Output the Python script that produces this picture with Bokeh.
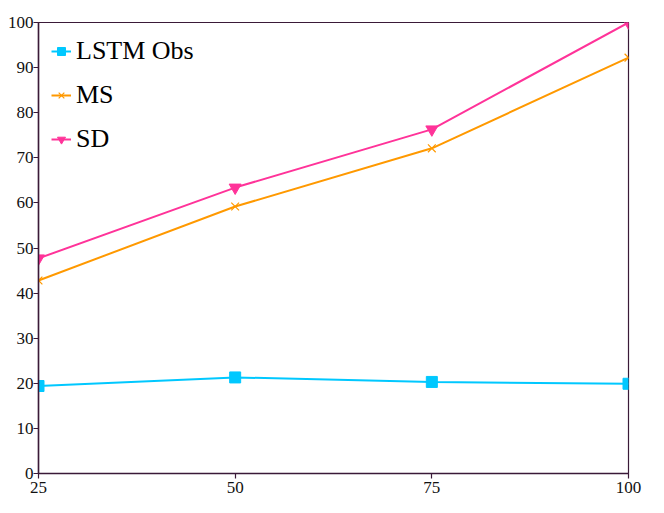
from bokeh.plotting import figure
from bokeh.models import Range1d, FixedTicker, Legend, LegendItem
from bokeh.embed import file_html
from bokeh.resources import INLINE

x = [25, 50, 75, 100]
lstm_obs = [19.4, 21.3, 20.3, 19.9]
ms = [42.8, 59.2, 72.1, 92.2]
sd = [47.7, 63.4, 76.3, 100.0]
x_ticks = [25, 50, 75, 100]
y_ticks = list(range(0, 101, 10))

FRAME = "#3a1a38"
FONT = "'Liberation Serif', 'Times New Roman', serif"
AXFONT = '"Liberation Serif", Times, serif'

p = figure(width=648, height=497, output_backend="svg", toolbar_location=None,
           x_range=Range1d(25, 100), y_range=Range1d(0, 100),
           min_border_left=38, min_border_right=20, min_border_top=22, min_border_bottom=24)
p.background_fill_color = "white"
p.border_fill_color = "white"
p.grid.visible = False
p.outline_line_color = FRAME
p.outline_line_width = 1.2

p.xaxis.ticker = FixedTicker(ticks=x_ticks)
p.yaxis.ticker = FixedTicker(ticks=y_ticks)
p.xaxis.minor_tick_line_color = None
p.yaxis.minor_tick_line_color = None
for ax in (p.xaxis, p.yaxis):
    ax.axis_line_color = FRAME
    ax.axis_line_width = 1.5
    ax.major_tick_line_color = FRAME
    ax.major_tick_line_width = 1.2
    ax.major_tick_out = 5
    ax.major_tick_in = 0
    ax.major_label_text_font = AXFONT
    ax.major_label_text_font_size = "17px"
    ax.major_label_text_color = "#111111"
p.yaxis.major_label_standoff = 0
p.xaxis.major_label_standoff = 3

l1 = p.line(x, lstm_obs, line_color="#00c8ff", line_width=2)
s1 = p.scatter(x, lstm_obs, marker="square", size=11, fill_color="#00c8ff", line_color="#00c8ff")
l2 = p.line(x, ms, line_color="#ff9900", line_width=2)
s2 = p.scatter(x, ms, marker="x", size=11, line_color="#ff9900", line_width=1.2)
l3 = p.line(x, sd, line_color="#ff3399", line_width=2)
s3 = p.scatter(x, sd, marker="inverted_triangle", size=12, fill_color="#ff3399", line_color="#ff3399")

legend = Legend(items=[
    LegendItem(label="LSTM Obs", renderers=[l1, s1]),
    LegendItem(label="MS", renderers=[l2, s2]),
    LegendItem(label="SD", renderers=[l3, s3]),
], location="top_left")
legend.border_line_color = None
legend.background_fill_alpha = 0
legend.label_text_font = FONT
legend.label_text_font_size = "26px"
legend.label_text_color = "#000000"
legend.glyph_width = 20
legend.glyph_height = 32
legend.label_standoff = 5
legend.spacing = 12
legend.margin = 13
legend.padding = 4
p.add_layout(legend)

open("out.html", "w").write(file_html(p, INLINE))
